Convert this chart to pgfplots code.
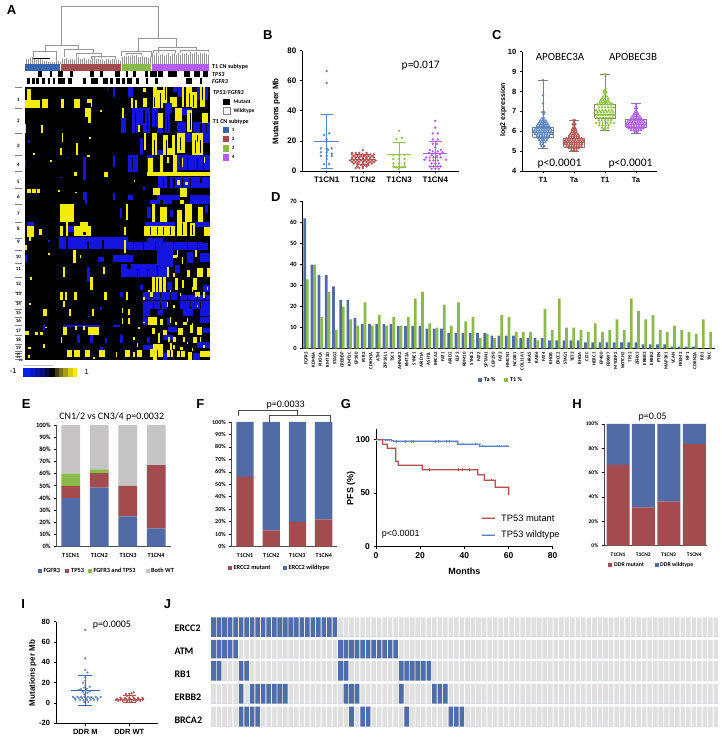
\documentclass[border=0pt]{standalone}
\usepackage{fontspec}
\usepackage{pgfplots}
\usepackage{pgfplotstable}
\pgfplotsset{compat=1.18}
\setmainfont{Liberation Sans}
\newfontfamily\calib{Carlito}
\newcommand\fs[1]{\fontsize{#1}{#1}\selectfont}
\definecolor{hy}{RGB}{245,235,10}
\definecolor{hb}{RGB}{20,20,225}
\definecolor{tb}{RGB}{80,107,165}
\definecolor{tr}{RGB}{163,75,79}
\definecolor{tg}{RGB}{138,186,74}
\definecolor{tq}{RGB}{198,196,196}
\definecolor{db}{RGB}{90,133,197}
\definecolor{dr}{RGB}{181,82,79}
\definecolor{dg}{RGB}{141,198,63}
\definecolor{dp}{RGB}{180,92,245}
\definecolor{jg}{RGB}{225,224,225}
\definecolor{jb}{RGB}{79,109,169}
\definecolor{db2}{RGB}{55,100,175}
\definecolor{dend}{RGB}{150,150,150}
\definecolor{cb1}{RGB}{5,30,235}
\definecolor{cb2}{RGB}{10,25,200}
\definecolor{cb3}{RGB}{10,20,165}
\definecolor{cb4}{RGB}{10,15,125}
\definecolor{cb5}{RGB}{5,10,80}
\definecolor{cb6}{RGB}{70,65,10}
\definecolor{cb7}{RGB}{120,115,15}
\definecolor{cb8}{RGB}{170,160,15}
\definecolor{cb9}{RGB}{215,205,10}
\newcommand\R[5]{\addplot[fill=#1,draw=none,forget plot] coordinates {(#2,#4)(#3,#4)(#3,#5)(#2,#5)} --cycle;}
\newcommand\Y[4]{\R{hy}{#1}{#2}{#3}{#4}}
\newcommand\Bl[4]{\R{hb}{#1}{#2}{#3}{#4}}
\newcommand\Kk[4]{\R{black}{#1}{#2}{#3}{#4}}
\newcommand\Lab[4]{\node[inner sep=0pt,font=#1] at (axis cs:#2,#3) {#4};}
\newcommand\Txt[4]{\node[inner sep=0pt,anchor=west,font=#1] at (axis cs:#2,#3) {#4};}
\newcommand\Hl[1]{\draw[gray,line width=.4pt] (axis cs:15,#1) -- (axis cs:21.7,#1);}
\newcommand\Swarm[3]{\addplot[only marks,mark=*,mark size=#2,color=#1,forget plot] coordinates {#3};}
\newcommand\MeanSD[7]{% color x meanhalf caphalf low mean high
\addplot[color=#1,line width=.8pt,forget plot] coordinates {(#2,#5)(#2,#7)};
\pgfmathsetmacro\xa{#2-#3}\pgfmathsetmacro\xb{#2+#3}\pgfmathsetmacro\xc{#2-#4}\pgfmathsetmacro\xd{#2+#4}
\edef\temp{\noexpand\addplot[color=#1,line width=.8pt,forget plot] coordinates {(\xa,#6)(\xb,#6)};
\noexpand\addplot[color=#1,line width=.8pt,forget plot] coordinates {(\xc,#5)(\xd,#5)};
\noexpand\addplot[color=#1,line width=.8pt,forget plot] coordinates {(\xc,#7)(\xd,#7)};}\temp}
\newcommand\BoxP[6]{% x low q1 med q3 high
\pgfmathsetmacro\xa{#1-.33}\pgfmathsetmacro\xb{#1+.33}\pgfmathsetmacro\xc{#1-.15}\pgfmathsetmacro\xd{#1+.15}
\addplot[color=gray,line width=.6pt,forget plot] coordinates {(#1,#2)(#1,#3)};
\addplot[color=gray,line width=.6pt,forget plot] coordinates {(#1,#5)(#1,#6)};
\edef\temp{\noexpand\addplot[color=gray,line width=.6pt,forget plot] coordinates {(\xa,#3)(\xb,#3)(\xb,#5)(\xa,#5)(\xa,#3)};
\noexpand\addplot[color=gray,line width=.6pt,forget plot] coordinates {(\xa,#4)(\xb,#4)};
\noexpand\addplot[color=gray,line width=.6pt,forget plot] coordinates {(\xc,#2)(\xd,#2)};
\noexpand\addplot[color=gray,line width=.6pt,forget plot] coordinates {(\xc,#6)(\xd,#6)};}\temp}
\pgfplotsset{
 panel/.style={scale only axis,axis x line*=bottom,axis y line*=left,
  axis line style={-,line width=.9pt},tick style={black,line width=.7pt},
  tick align=outside,major tick length=2.5pt,
  /pgf/number format/assume math mode=true,scaled ticks=false,clip=false},
 stk/.style={panel,ybar stacked,ymin=0,ymax=100,
  yticklabel={\pgfmathprintnumber{\tick}\%},
  x tick style={draw=none},xticklabels={},xtick=\empty,axis line style={-,line width=.8pt,color=black!70}},
 flat/.style={scale only axis,hide axis,clip=true},
 jrow/.style={scale only axis,hide axis,width=508pt,xmin=-.5,xmax=91.5,ymin=0,ymax=1,clip=true},
 jbar/.style={ybar,bar shift=0pt,bar width=4.6pt,draw=none,fill=#1}
}
\pgfplotstableread{
c all ERCC2 ATM RB1 ERBB2 BRCA2
0 1 1 1 1 0 0
1 1 1 1 1 0 0
2 1 1 1 0 0 0
3 1 1 1 0 0 0
4 1 1 1 0 0 0
5 1 1 0 1 1 1
6 1 1 0 1 0 1
7 1 1 0 0 1 1
8 1 1 0 0 1 1
9 1 1 0 0 1 0
10 1 1 0 0 1 0
11 1 1 0 0 1 0
12 1 1 0 0 1 0
13 1 1 0 0 1 0
14 1 1 0 0 0 0
15 1 1 0 0 0 0
16 1 1 0 0 0 0
17 1 1 0 0 0 0
18 1 1 0 0 0 0
19 1 1 0 0 0 0
20 1 1 0 0 0 0
21 1 1 0 0 0 0
22 1 1 0 0 0 0
23 1 0 1 1 0 0
24 1 0 1 1 1 0
25 1 0 1 0 1 1
26 1 0 1 0 1 0
27 1 0 1 0 0 1
28 1 0 1 0 0 1
29 1 0 1 0 0 0
30 1 0 1 0 0 0
31 1 0 1 0 0 0
32 1 0 1 0 0 0
33 1 0 1 0 0 0
34 1 0 0 1 1 0
35 1 0 0 1 0 1
36 1 0 0 1 0 0
37 1 0 0 1 0 0
38 1 0 0 1 0 0
39 1 0 0 1 0 0
40 1 0 0 0 1 0
41 1 0 0 0 1 0
42 1 0 0 0 1 0
43 1 0 0 0 0 1
44 1 0 0 0 0 1
45 1 0 0 0 0 1
46 1 0 0 0 0 0
47 1 0 0 0 0 0
48 1 0 0 0 0 0
49 1 0 0 0 0 0
50 1 0 0 0 0 0
51 1 0 0 0 0 0
52 1 0 0 0 0 0
53 1 0 0 0 0 0
54 1 0 0 0 0 0
55 1 0 0 0 0 0
56 1 0 0 0 0 0
57 1 0 0 0 0 0
58 1 0 0 0 0 0
59 1 0 0 0 0 0
60 1 0 0 0 0 0
61 1 0 0 0 0 0
62 1 0 0 0 0 0
63 1 0 0 0 0 0
64 1 0 0 0 0 0
65 1 0 0 0 0 0
66 1 0 0 0 0 0
67 1 0 0 0 0 0
68 1 0 0 0 0 0
69 1 0 0 0 0 0
70 1 0 0 0 0 0
71 1 0 0 0 0 0
72 1 0 0 0 0 0
73 1 0 0 0 0 0
74 1 0 0 0 0 0
75 1 0 0 0 0 0
76 1 0 0 0 0 0
77 1 0 0 0 0 0
78 1 0 0 0 0 0
79 1 0 0 0 0 0
80 1 0 0 0 0 0
81 1 0 0 0 0 0
82 1 0 0 0 0 0
83 1 0 0 0 0 0
84 1 0 0 0 0 0
85 1 0 0 0 0 0
86 1 0 0 0 0 0
87 1 0 0 0 0 0
88 1 0 0 0 0 0
89 1 0 0 0 0 0
90 1 0 0 0 0 0
91 1 0 0 0 0 0
}\jtab
\pgfplotstableread{
i Ta T1
0 62 33
1 40 40
2 35 15
3 35 27
4 29.7 9
5 23.3 20
6 23.3 14
7 14.5 11
8 11.7 22
9 11.7 11
10 11.7 16
11 11.7 11
12 11.7 15
13 10.8 11
14 10.8 15
15 10.8 24
16 10.8 27
17 9.5 12
18 9.5 10
19 9.5 21
20 7.5 11
21 7.5 22
22 7.5 13
23 7.5 15
24 7.5 5
25 7.5 7
26 6.2 5
27 6.2 16
28 6.2 15
29 6.2 8
30 5 8
31 5 8
32 5 4
33 5 19
34 4 9
35 4 24
36 4 10
37 4 10
38 4 9
39 3 8
40 3 12
41 3 8
42 3 9
43 3 14
44 3 9
45 3 24
46 3 18
47 2 14
48 2 16
49 2 9
50 2 8
51 1 11
52 1 9
53 1 8
54 1 7
55 0 14
56 0 8
}\dtab
\begin{document}
\begin{tikzpicture}[x=1pt,y=1pt]
\useasboundingbox (0,0) rectangle (721pt,738pt);

% ---------- A: dendrogram
\begin{axis}[at={(25pt,674pt)},anchor=south west,flat,width=185pt,height=58pt,xmin=75,xmax=630,ymin=0,ymax=174,clip=false]
\addplot[ycomb,color=dend,line width=.7pt,forget plot] coordinates {(78,16)(84,14)(90,18)(96,20)(102,14)(108,12)(114,15)(120,18)(126,11)(132,8)(138,10)(144,7)(150,5)(156,6)(162,5)(168,7)(174,8)(180,7)
(186,14)(192,16)(198,18)(204,12)(210,14)(216,16)(222,12)(228,18)(234,20)(240,14)(246,16)(252,18)(258,12)(264,14)(270,12)(276,18)(282,20)(288,16)(294,14)(300,12)(306,16)(312,10)(318,14)(324,16)(330,12)(336,14)(342,16)(348,12)(354,12)(360,10)
(366,22)(372,24)(378,20)(384,24)(390,22)(396,26)(402,24)(408,26)(414,22)(420,20)(426,24)(432,22)(438,20)(444,18)(450,20)
(458,32)(464,28)(470,32)(476,24)(482,26)(488,30)(494,24)(500,28)(506,32)(512,24)(518,30)(524,34)(530,28)(536,32)(542,26)(548,34)(554,30)(560,34)(566,28)(572,36)(578,30)(584,34)(590,36)(596,28)(602,32)(608,30)(614,34)(620,30)(626,28)};
\addplot[color=dend,line width=.7pt,forget plot] coordinates {(185,57)(185,172)(475,172)(475,77)};
\addplot[color=dend,line width=.7pt,forget plot] coordinates {(135,37)(135,57)(235,57)(235,44)};
\addplot[color=dend,line width=.7pt,forget plot] coordinates {(100,20)(100,37)(170,37)(170,7)};
\addplot[color=dend,line width=.7pt,forget plot] coordinates {(193,22)(193,44)(280,44)(280,32)};
\addplot[color=dend,line width=.7pt,forget plot] coordinates {(228,22)(228,32)(305,32)(305,18)};
\addplot[color=dend,line width=.7pt,forget plot] coordinates {(275,14)(275,22)(345,22)(345,16)};
\addplot[color=dend,line width=.7pt,forget plot] coordinates {(415,37)(415,77)(530,77)(530,50)};
\addplot[color=dend,line width=.7pt,forget plot] coordinates {(365,24)(365,37)(455,37)(455,20)};
\addplot[color=dend,line width=.7pt,forget plot] coordinates {(380,26)(380,32)(425,32)(425,26)};
\addplot[color=dend,line width=.7pt,forget plot] coordinates {(475,34)(475,50)(590,50)(590,40)};
\addplot[color=dend,line width=.7pt,forget plot] coordinates {(460,32)(460,40)(525,40)(525,34)};
\addplot[color=dend,line width=.7pt,forget plot] coordinates {(540,34)(540,42)(625,42)(625,36)};
\addplot[color=black,line width=.5pt,forget plot] coordinates {(100,16)(150,16)};
\end{axis}

% ---------- A: annotation rows
\begin{axis}[at={(25pt,654pt)},anchor=south west,flat,width=185pt,height=20pt,xmin=75,xmax=630,ymin=192,ymax=252,y dir=reverse]
\R{db2}{75}{180}{192}{212}\R{tr}{182}{362}{192}{212}\R{tg}{365}{452}{192}{212}\R{dp}{455}{628}{192}{212}
\Kk{115}{127}{213}{232}\Kk{150}{155}{213}{232}\Kk{175}{190}{213}{232}\Kk{210}{220}{213}{232}\Kk{270}{283}{213}{232}\Kk{300}{310}{213}{232}\Kk{345}{360}{213}{232}\Kk{378}{385}{213}{232}\Kk{400}{408}{213}{232}\Kk{435}{445}{213}{232}\Kk{450}{470}{213}{232}\Kk{475}{488}{213}{232}\Kk{505}{530}{213}{232}\Kk{553}{570}{213}{232}\Kk{583}{600}{213}{232}\Kk{610}{625}{213}{232}
\Kk{80}{90}{233}{251}\Kk{95}{105}{233}{251}\Kk{107}{118}{233}{251}\Kk{125}{135}{233}{251}\Kk{143}{150}{233}{251}\Kk{158}{165}{233}{251}\Kk{175}{195}{233}{251}\Kk{205}{215}{233}{251}\Kk{250}{258}{233}{251}\Kk{272}{295}{233}{251}\Kk{308}{325}{233}{251}\Kk{330}{340}{233}{251}\Kk{348}{360}{233}{251}\Kk{367}{375}{233}{251}\Kk{380}{395}{233}{251}\Kk{408}{418}{233}{251}\Kk{438}{445}{233}{251}\Kk{465}{473}{233}{251}\Kk{558}{575}{233}{251}\Kk{600}{607}{233}{251}
\end{axis}

% ---------- A: heat map, upper part
\begin{axis}[at={(25pt,538pt)},anchor=south west,flat,width=185pt,height=112.67pt,xmin=75,xmax=630,ymin=262,ymax=600,y dir=reverse]
\Kk{75}{630}{262}{600}
% row 1
\Y{75}{120}{300}{325}\Y{82}{92}{268}{300}\Y{125}{145}{298}{325}\Y{182}{192}{297}{325}\Y{222}{240}{297}{325}\Y{262}{272}{298}{308}\Y{272}{277}{298}{322}
\Bl{340}{346}{262}{290}\Bl{385}{400}{262}{290}\Y{392}{400}{295}{325}\Y{405}{410}{300}{325}\Y{428}{438}{265}{275}\Y{430}{440}{295}{320}
\Y{458}{470}{262}{330}\Y{472}{490}{270}{325}\Y{490}{500}{262}{310}\Y{510}{530}{292}{320}\Y{545}{575}{262}{320}\Y{575}{590}{275}{325}\Y{600}{615}{262}{320}
\Bl{495}{515}{310}{340}\Bl{520}{530}{262}{275}\Bl{590}{600}{262}{300}\Bl{615}{625}{262}{300}\Bl{535}{545}{262}{290}
% row 2
\Bl{362}{378}{355}{400}\Bl{395}{415}{325}{400}\Bl{415}{450}{325}{375}\Bl{428}{450}{375}{400}\Bl{455}{475}{325}{380}\Bl{495}{510}{340}{400}\Bl{580}{630}{365}{400}\Bl{530}{558}{365}{400}\Bl{470}{490}{385}{400}\Bl{545}{575}{325}{345}
\Y{255}{272}{325}{352}\Y{265}{272}{352}{368}\Y{365}{372}{325}{355}\Y{72}{78}{372}{398}\Y{122}{128}{375}{398}\Y{525}{545}{325}{362}\Y{560}{575}{330}{395}\Y{605}{625}{340}{370}\Y{475}{490}{340}{385}\Y{415}{420}{375}{395}
% row 3
\Y{455}{470}{400}{465}\Y{490}{525}{405}{465}\Y{530}{555}{400}{460}\Y{575}{610}{400}{465}\Y{432}{438}{400}{450}\Y{185}{190}{400}{425}\Y{228}{234}{430}{465}\Y{180}{186}{445}{465}
\Bl{420}{430}{415}{465}\Bl{470}{490}{450}{465}\Bl{610}{630}{400}{430}\Bl{555}{575}{400}{425}\Bl{85}{90}{420}{430}
\Kk{505}{515}{405}{445}\Kk{590}{595}{405}{425}
% row 4
\Bl{385}{415}{465}{515}\Bl{440}{460}{465}{515}\Bl{530}{630}{465}{510}\Bl{250}{258}{470}{515}\Bl{340}{346}{465}{500}
\Y{445}{458}{475}{515}\Y{480}{490}{465}{515}\Y{520}{530}{465}{515}\Y{262}{270}{465}{472}\Y{100}{105}{460}{466}
\Kk{395}{400}{470}{510}
% row 5
\Y{222}{232}{515}{528}\Y{312}{325}{515}{530}\Y{440}{630}{515}{528}\Bl{475}{500}{528}{565}\Bl{510}{590}{530}{565}\Bl{590}{630}{530}{565}\Bl{250}{258}{515}{540}\Y{530}{540}{540}{555}\Y{555}{565}{545}{555}
% row 6
\Y{80}{120}{568}{580}\Y{460}{480}{565}{585}\Y{540}{560}{565}{590}\Bl{250}{260}{575}{600}\Bl{470}{540}{585}{600}\Bl{570}{630}{585}{600}\Bl{385}{400}{585}{600}\Bl{340}{346}{580}{600}
\Kk{92}{96}{568}{580}\Kk{108}{112}{568}{580}
% specks
\Y{300}{305}{330}{336}\Y{150}{155}{480}{485}\Y{268}{272}{412}{416}\Y{175}{180}{570}{575}\Y{225}{232}{575}{580}\Y{402}{406}{540}{545}\Y{500}{504}{345}{355}\Y{545}{550}{475}{500}\Y{610}{614}{470}{490}\Y{500}{506}{470}{490}
\Bl{70}{78}{480}{500}\Bl{200}{205}{470}{475}\Bl{320}{325}{262}{270}\Bl{180}{186}{530}{535}\Bl{430}{435}{560}{570}
% black gaps
\Kk{463}{466}{290}{320}\Kk{480}{483}{280}{325}\Kk{495}{498}{262}{300}\Kk{553}{557}{262}{320}\Kk{566}{569}{280}{320}\Kk{580}{583}{285}{320}\Kk{607}{610}{262}{300}
\Kk{405}{408}{340}{400}\Kk{430}{434}{330}{370}\Kk{440}{443}{340}{395}\Kk{465}{468}{335}{380}\Kk{570}{573}{340}{390}\Kk{600}{605}{370}{395}\Kk{618}{621}{370}{398}\Kk{500}{503}{345}{395}
\Kk{462}{465}{420}{465}\Kk{497}{500}{420}{465}\Kk{540}{543}{410}{450}\Kk{585}{588}{420}{460}\Kk{600}{603}{420}{460}
\Kk{540}{543}{470}{505}\Kk{560}{563}{470}{510}\Kk{590}{593}{470}{510}\Kk{610}{613}{470}{510}
\Kk{520}{524}{533}{560}\Kk{545}{550}{533}{560}\Kk{570}{573}{533}{560}\Kk{490}{493}{530}{560}\Kk{600}{605}{535}{550}
\end{axis}

% ---------- A: heat map, lower part
\begin{axis}[at={(25pt,378pt)},anchor=south west,flat,width=185pt,height=160pt,xmin=75,xmax=630,ymin=30,ymax=510,y dir=reverse]
\Kk{75}{630}{30}{510}
% row 6 end
\Bl{450}{480}{30}{42}\Bl{255}{262}{30}{42}\Y{540}{552}{30}{42}\Bl{570}{630}{30}{42}\Bl{490}{515}{30}{42}
% row 7
\Y{180}{222}{42}{95}\Y{378}{384}{42}{90}\Y{455}{465}{42}{97}\Y{480}{500}{50}{97}\Y{530}{545}{60}{97}\Y{555}{575}{42}{97}\Y{595}{610}{50}{97}
\Bl{440}{452}{50}{85}\Bl{360}{366}{55}{85}\Bl{510}{520}{60}{80}\Bl{615}{625}{45}{70}
% row 8
\Y{82}{102}{108}{140}\Y{180}{190}{108}{137}\Y{198}{205}{97}{137}\Y{222}{272}{108}{137}\Y{240}{265}{97}{108}\Y{432}{525}{108}{137}\Y{530}{560}{97}{137}\Y{570}{585}{100}{137}\Y{612}{630}{110}{137}\Y{372}{378}{110}{135}\Y{118}{127}{118}{135}
\Bl{82}{102}{97}{108}\Bl{205}{222}{108}{125}\Bl{435}{525}{97}{108}\Bl{585}{630}{97}{110}\Kk{250}{258}{125}{135}
% row 9
\Bl{178}{385}{140}{178}\Bl{385}{610}{155}{180}\Bl{610}{625}{160}{180}\Bl{440}{490}{145}{155}\Kk{198}{205}{142}{178}\Kk{262}{268}{155}{178}\Kk{305}{312}{150}{178}\Y{372}{378}{150}{190}\Y{75}{80}{165}{180}\Y{88}{94}{140}{152}
% row 10
\Y{218}{228}{180}{218}\Bl{340}{400}{195}{215}\Bl{470}{520}{180}{230}\Bl{560}{580}{185}{220}\Bl{75}{82}{195}{215}\Bl{295}{312}{200}{215}\Bl{600}{630}{190}{215}\Y{520}{530}{195}{205}
% row 11
\Bl{362}{500}{222}{260}\Y{190}{196}{232}{260}\Y{310}{315}{232}{252}\Y{590}{610}{235}{260}\Y{620}{630}{235}{260}\Bl{260}{270}{230}{260}\Y{560}{570}{240}{260}\Y{500}{508}{230}{260}\Bl{525}{540}{225}{250}\Kk{380}{392}{222}{238}
% row 12
\Y{270}{280}{260}{300}\Y{455}{465}{260}{305}\Y{468}{485}{260}{305}\Y{490}{497}{262}{305}\Y{525}{535}{265}{300}\Y{580}{590}{265}{300}\Y{90}{95}{260}{270}\Bl{262}{270}{258}{275}\Bl{500}{515}{275}{300}\Bl{610}{630}{285}{305}\Y{545}{552}{270}{295}\Bl{420}{430}{285}{300}
% row 13
\Y{180}{200}{305}{330}\Y{222}{232}{305}{330}\Y{312}{320}{305}{330}\Y{378}{384}{305}{330}\Bl{430}{530}{305}{330}\Bl{540}{630}{315}{330}\Y{450}{458}{305}{320}\Y{585}{600}{305}{320}\Kk{190}{194}{305}{330}\Bl{360}{370}{305}{320}
% row 14
\Bl{430}{500}{332}{358}\Bl{540}{630}{332}{358}\Y{190}{196}{332}{352}\Y{500}{505}{335}{350}
% row 15
\Y{130}{140}{358}{378}\Y{208}{213}{358}{378}\Y{276}{282}{358}{378}\Bl{430}{450}{358}{378}\Bl{550}{580}{358}{378}\Bl{600}{630}{358}{378}\Y{365}{370}{355}{370}\Y{385}{390}{358}{375}\Bl{475}{490}{360}{375}
% row 16
\Y{445}{470}{380}{405}\Y{480}{490}{388}{405}\Y{365}{370}{385}{402}\Y{385}{390}{385}{402}\Bl{430}{445}{380}{405}\Bl{500}{510}{385}{405}\Bl{600}{630}{380}{400}\Y{550}{560}{395}{405}
% row 17
\Bl{190}{300}{405}{412}\Y{265}{298}{412}{435}\Y{72}{88}{422}{435}\Y{105}{115}{425}{435}\Y{120}{130}{425}{435}\Y{190}{202}{412}{435}\Y{590}{605}{412}{435}\Y{535}{550}{415}{435}\Y{455}{465}{415}{432}\Y{490}{500}{420}{440}\Bl{340}{360}{405}{412}\Bl{130}{134}{405}{420}\Bl{610}{630}{415}{430}\Bl{505}{530}{410}{425}\Y{570}{578}{405}{430}\Y{225}{232}{408}{420}\Y{248}{255}{408}{420}
% row 18
\Bl{230}{240}{435}{460}\Bl{270}{280}{435}{460}\Bl{360}{370}{435}{460}\Y{182}{186}{440}{460}\Y{520}{528}{440}{455}\Y{550}{556}{440}{455}\Y{580}{590}{440}{460}\Y{475}{480}{430}{460}\Bl{590}{630}{455}{475}\Bl{490}{520}{435}{450}\Bl{440}{450}{440}{460}\Bl{315}{320}{445}{460}
% row 19
\Y{460}{490}{462}{480}\Bl{430}{460}{465}{480}\Y{130}{136}{462}{475}\Y{85}{92}{470}{478}\Bl{300}{310}{470}{480}\Y{540}{550}{470}{480}\Y{510}{516}{460}{480}
% rows 20-23
\Y{200}{215}{480}{500}\Y{222}{240}{480}{500}\Y{255}{270}{480}{500}\Y{298}{315}{480}{500}\Y{375}{390}{480}{500}\Y{410}{425}{480}{500}\Y{450}{490}{478}{500}\Y{500}{520}{480}{500}\Y{530}{555}{482}{500}\Y{565}{575}{485}{510}\Y{600}{630}{482}{500}\Y{85}{90}{495}{505}\Y{280}{285}{500}{508}\Y{348}{352}{485}{500}\Y{400}{405}{485}{500}\Y{458}{470}{500}{510}\Bl{490}{500}{490}{510}\Bl{580}{600}{490}{510}
% specks
\Y{510}{514}{380}{400}\Y{530}{534}{180}{200}\Y{585}{590}{180}{200}\Y{545}{550}{200}{222}\Y{520}{524}{250}{262}\Y{575}{580}{290}{305}\Y{610}{614}{305}{325}\Y{430}{436}{320}{330}\Y{145}{150}{190}{194}\Y{240}{244}{195}{205}\Y{88}{92}{340}{345}\Y{135}{140}{410}{415}\Bl{130}{135}{410}{418}\Bl{145}{150}{150}{155}\Bl{300}{305}{350}{360}\Bl{265}{270}{378}{382}
\Y{520}{524}{345}{355}\Y{510}{514}{300}{310}\Y{525}{530}{395}{405}\Y{560}{565}{385}{395}\Y{575}{580}{400}{410}\Y{590}{595}{345}{350}\Y{620}{624}{290}{300}\Y{430}{434}{395}{400}\Y{415}{420}{410}{418}\Y{400}{404}{440}{450}\Y{410}{414}{460}{470}\Y{445}{449}{300}{305}\Y{540}{544}{310}{318}\Y{505}{510}{440}{455}\Y{560}{564}{455}{462}\Y{600}{604}{440}{455}\Y{610}{615}{465}{475}\Y{520}{525}{465}{478}\Y{575}{580}{475}{482}
% black gaps
\Kk{450}{453}{110}{135}\Kk{470}{473}{110}{135}\Kk{490}{493}{110}{135}\Kk{510}{513}{110}{135}\Kk{545}{548}{100}{135}\Kk{577}{580}{105}{135}
\Kk{400}{402}{157}{178}\Kk{430}{433}{157}{178}\Kk{465}{468}{157}{178}\Kk{520}{523}{157}{178}\Kk{560}{563}{157}{178}\Kk{590}{593}{157}{178}
\Kk{410}{412}{238}{258}\Kk{440}{442}{238}{258}\Kk{470}{472}{225}{258}\Kk{473}{476}{265}{305}
\Kk{450}{453}{320}{330}\Kk{480}{483}{305}{330}\Kk{510}{513}{305}{330}\Kk{560}{563}{318}{330}\Kk{590}{593}{318}{330}\Kk{615}{618}{318}{330}
\Kk{460}{463}{335}{358}\Kk{480}{483}{335}{358}\Kk{570}{573}{335}{358}\Kk{600}{603}{335}{358}
\Kk{470}{473}{480}{500}\Kk{510}{513}{480}{500}\Kk{540}{543}{482}{500}
\end{axis}

% ---------- B
\begin{axis}[panel,at={(302.3pt,567pt)},anchor=south west,width=157pt,height=120.3pt,xmin=.326,xmax=4.663,ymin=0,ymax=80,
 ytick={0,20,40,60,80},xtick={1,2,3,4},xticklabels={T1CN1,T1CN2,T1CN3,T1CN4},tick label style={font=\fs{8}\bfseries}]
\Swarm{db}{1pt}{(1,66.5)(1,58.5)(1.07,25)(.93,24)(1,21)(.84,15)(1,15)(1.14,15)(.84,12.5)(1,12.5)(.84,10)(1,10)(1.14,10)(1.14,11.5)(1,8)(.93,4.5)(1.07,4.5)(1.04,14)}
\Swarm{dr}{1pt}{(2,14)(1.7,12)(1.8,12)(1.9,12)(2.1,12)(1.7,11)(1.8,11)(1.9,11)(2,11)(2.1,11)(2.2,11)(2.3,11)(1.75,10)(1.85,10)(1.95,10)(2.05,10)(2.15,10)(2.25,10)(1.7,9)(1.8,9)(1.9,9)(2,9)(2.1,9)(2.2,9)(2.3,9)(1.7,8)(1.8,8)(1.9,8)(2,8)(2.1,8)(2.2,8)(1.65,7)(1.75,7)(1.85,7)(1.95,7)(2.05,7)(2.15,7)(2.25,7)(2.35,7)(1.7,6)(1.8,6)(1.9,6)(2,6)(2.1,6)(2.2,6)(2.3,6)(1.75,5)(1.85,5)(2,5)(2.15,5)(2.25,5)(1.85,4)(1.95,4)(2.05,4)(2.15,4)(1.85,3)(2,3)(2.1,3)(1.8,2)(1.9,2)(2,2)}
\Swarm{dg}{1pt}{(3,26.8)(2.93,21.2)(3.08,22)(2.85,10.7)(3,10.7)(3.15,10.7)(2.84,8)(3,8)(3.15,8)(2.84,5)(3,5)(3.15,5)(2.84,3)(3,3)(3.15,3)(3,1.5)(2.92,2.5)(3.08,2.5)}
\Swarm{dp}{1pt}{(4,33.3)(4,28.8)(3.93,25)(4.07,25)(3.93,21)(4.07,21)(3.93,18)(4.05,18)(4,15.5)(3.85,14)(4.15,14)(3.93,13)(4.07,13)(4.2,12.5)(3.83,12)(4,12)(4.13,11)(3.9,10.5)(4.05,10)(3.75,9)(3.85,9)(3.95,9)(4.05,9)(4.15,9)(4.3,7.5)(3.7,7.5)(3.85,7)(3.95,7)(4.07,7)(3.9,5)(4,5)(4.1,5)(3.85,3)(3.95,3)(4.05,3)(4.15,3)(3.9,1.5)(4,1.5)(4.1,1.5)}
\MeanSD{db}{1}{.34}{.17}{2}{19.5}{37.5}
\MeanSD{dr}{2}{.33}{.17}{4.4}{7.7}{10.8}
\MeanSD{dg}{3}{.33}{.18}{2.5}{11}{19.3}
\MeanSD{dp}{4}{.33}{.18}{3}{11.5}{20}
\end{axis}

% ---------- C
\begin{axis}[panel,at={(522.3pt,567pt)},anchor=south west,width=134.4pt,height=119.3pt,xmin=.332,xmax=4.668,ymin=4,ymax=10,
 ytick={4,5,6,7,8,9,10},xtick={1,2,3,4},xticklabels={T1,Ta,T1,Ta},tick label style={font=\fs{7.5}\bfseries}]
\BoxP{1}{5.15}{5.7}{5.95}{6.2}{8.57}
\BoxP{2}{5}{5.2}{5.42}{5.65}{6.55}
\BoxP{3}{6.05}{6.65}{6.85}{7.37}{8.87}
\BoxP{4}{5.9}{6.2}{6.35}{6.58}{7.38}
\Swarm{db}{1pt}{(1,8.57)(1,7.8)(1,7.4)(.98,6.95)(1.04,6.95)(1.02,6.85)(.97,6.65)(1.03,6.65)(.92,6.55)(1,6.55)(1.08,6.55)(.88,6.45)(.96,6.45)(1.04,6.45)(1.12,6.45)(.84,6.35)(.92,6.35)(1,6.35)(1.08,6.35)(1.16,6.35)(.8,6.25)(.88,6.25)(.96,6.25)(1.04,6.25)(1.12,6.25)(1.2,6.25)(.76,6.15)(.84,6.15)(.92,6.15)(1,6.15)(1.08,6.15)(1.16,6.15)(1.24,6.15)(.72,6.05)(.8,6.05)(.88,6.05)(.96,6.05)(1.04,6.05)(1.12,6.05)(1.2,6.05)(1.28,6.05)(.7,5.95)(.78,5.95)(.86,5.95)(.94,5.95)(1.02,5.95)(1.1,5.95)(1.18,5.95)(1.26,5.95)(.74,5.85)(.82,5.85)(.9,5.85)(.98,5.85)(1.06,5.85)(1.14,5.85)(1.22,5.85)(1.3,5.85)(.8,5.75)(.88,5.75)(.96,5.75)(1.04,5.75)(1.12,5.75)(1.2,5.75)(.84,5.65)(.92,5.65)(1,5.65)(1.08,5.65)(1.16,5.65)(.88,5.55)(.96,5.55)(1.04,5.55)(1.12,5.55)(.92,5.45)(1,5.45)(1.08,5.45)(.92,5.35)(1,5.35)(.95,5.25)(1.05,5.25)(1,5.15)}
\Swarm{dr}{1pt}{(1.97,6.55)(2.03,6.55)(2,6.45)(1.96,6.35)(2.04,6.35)(2,6.25)(1.96,6.15)(2.04,6.15)(1.93,6.05)(2,6.05)(2.07,6.05)(1.92,5.95)(2,5.95)(2.08,5.95)(1.88,5.85)(1.96,5.85)(2.04,5.85)(2.12,5.85)(1.84,5.75)(1.92,5.75)(2,5.75)(2.08,5.75)(2.16,5.75)(1.76,5.65)(1.84,5.65)(1.92,5.65)(2,5.65)(2.08,5.65)(2.16,5.65)(2.24,5.65)(1.72,5.55)(1.8,5.55)(1.88,5.55)(1.96,5.55)(2.04,5.55)(2.12,5.55)(2.2,5.55)(2.28,5.55)(1.68,5.45)(1.76,5.45)(1.84,5.45)(1.92,5.45)(2,5.45)(2.08,5.45)(2.16,5.45)(2.24,5.45)(2.32,5.45)(1.7,5.35)(1.78,5.35)(1.86,5.35)(1.94,5.35)(2.02,5.35)(2.1,5.35)(2.18,5.35)(2.26,5.35)(1.76,5.25)(1.84,5.25)(1.92,5.25)(2,5.25)(2.08,5.25)(2.16,5.25)(2.24,5.25)(1.84,5.15)(1.92,5.15)(2,5.15)(2.08,5.15)(2.16,5.15)(1.92,5.05)(2,5.05)(2.08,5.05)(2,5)}
\Swarm{dg}{1pt}{(3,8.87)(3.03,8.15)(2.98,8.05)(3.04,7.95)(2.96,7.95)(3,7.85)(2.94,7.75)(3.06,7.75)(2.9,7.65)(3,7.65)(3.1,7.65)(2.86,7.55)(2.94,7.55)(3.02,7.55)(3.1,7.55)(2.82,7.45)(2.9,7.45)(2.98,7.45)(3.06,7.45)(3.14,7.45)(3.2,7.4)(2.76,7.35)(2.84,7.35)(2.92,7.35)(3,7.35)(3.08,7.35)(3.16,7.35)(3.24,7.35)(2.8,7.2)(2.9,7.2)(3,7.2)(3.1,7.2)(3.2,7.2)(3.28,7.2)(2.72,7.05)(2.82,7.05)(2.92,7.05)(3.02,7.05)(3.12,7.05)(3.22,7.05)(2.76,6.95)(2.86,6.95)(2.96,6.95)(3.06,6.95)(3.16,6.95)(3.26,6.95)(2.7,6.82)(2.78,6.82)(2.86,6.82)(2.94,6.82)(3.02,6.82)(3.1,6.82)(3.18,6.82)(3.26,6.82)(3.32,6.82)(2.74,6.68)(2.84,6.68)(2.94,6.68)(3.04,6.68)(3.14,6.68)(3.24,6.68)(2.8,6.55)(2.9,6.55)(3,6.55)(3.1,6.55)(3.2,6.55)(2.72,6.42)(2.82,6.42)(2.92,6.42)(3.08,6.42)(3.18,6.42)(3.3,6.42)(2.82,6.3)(2.92,6.3)(3.02,6.3)(3.12,6.3)(2.9,6.18)(3,6.18)(3.1,6.18)(3,6.05)(2.96,6.1)}
\Swarm{dp}{1pt}{(4,7.38)(4,7.25)(3.97,7.15)(4.03,7.15)(4,7.05)(3.96,6.95)(4.04,6.95)(3.93,6.85)(4,6.85)(4.07,6.85)(3.88,6.75)(3.96,6.75)(4.04,6.75)(4.12,6.75)(3.84,6.65)(3.92,6.65)(4,6.65)(4.08,6.65)(4.16,6.65)(3.76,6.55)(3.84,6.55)(3.92,6.55)(4,6.55)(4.08,6.55)(4.16,6.55)(4.24,6.55)(3.72,6.45)(3.8,6.45)(3.88,6.45)(3.96,6.45)(4.04,6.45)(4.12,6.45)(4.2,6.45)(4.28,6.45)(3.68,6.35)(3.76,6.35)(3.84,6.35)(3.92,6.35)(4,6.35)(4.08,6.35)(4.16,6.35)(4.24,6.35)(4.32,6.35)(3.7,6.25)(3.78,6.25)(3.86,6.25)(3.94,6.25)(4.02,6.25)(4.1,6.25)(4.18,6.25)(4.26,6.25)(3.76,6.15)(3.84,6.15)(3.92,6.15)(4,6.15)(4.08,6.15)(4.16,6.15)(4.24,6.15)(3.84,6.05)(3.92,6.05)(4,6.05)(4.08,6.05)(4.16,6.05)(3.96,5.95)(4.04,5.95)}
\end{axis}

% ---------- D
\begin{axis}[panel,at={(302.7pt,389.3pt)},anchor=south west,width=412.3pt,height=147pt,xmin=-.46,xmax=56.8,ymin=0,ymax=70,
 ytick={0,10,...,70},xtick={0,...,56},
 xticklabels={FGFR3,KDM6A,PIK3CA,KMT2D,STAG2,CREBBP,KMT2C,EP300,RYR2,CDKN1A,ATM,ZFP36L1,TSC1,AHNAK2,KMT2A,SYNE1,ARID1A,ASH1L,BRCA2,FAT1,ARID2,ELF3,RBM10,SYNE2,FAT2,SPTAN1,CEP290,FAT3,HMCN1,NCOR1,COL11A1,HRAS,RAB6,FAT4,RHOB,ERCC2,STAG1,TET3,RHOA,CLTC,HERC1,EP400,FBXW7,MYCBP2,NOTCH2,TP53,ZFHX3,ERBB3,ERBB2,PTEN,MAP3K1,VCAN,FREM2,NF1,CDKN2A,RB1,TNC},
 x tick style={draw=none},
 y tick label style={font=\calib\fs{6.5}\bfseries},
 x tick label style={font=\calib\fs{4.8}\bfseries,rotate=90,anchor=east,inner sep=1pt}]
\addplot[ybar,bar shift=-1.35pt,bar width=2.7pt,fill=tb,draw=none,forget plot] table[x=i,y=Ta] {\dtab};
\addplot[ybar,bar shift=1.35pt,bar width=2.7pt,fill=tg,draw=none,forget plot] table[x=i,y=T1] {\dtab};
\end{axis}

% ---------- E
\begin{axis}[stk,at={(56.7pt,191.3pt)},anchor=south west,width=114pt,height=121.7pt,xmin=.51,xmax=4.51,bar width=18.7pt,
 ytick={0,10,...,100},tick label style={font=\calib\fs{6.5}\bfseries}]
\addplot[fill=tb,draw=none,forget plot] coordinates {(1,40)(2,48.5)(3,25)(4,15)};
\addplot[fill=tr,draw=none,forget plot] coordinates {(1,10)(2,12)(3,25)(4,52)};
\addplot[fill=tg,draw=none,forget plot] coordinates {(1,10)(2,3)(3,0)(4,0)};
\addplot[fill=tq,draw=none,forget plot] coordinates {(1,40)(2,36.5)(3,50)(4,33)};
\end{axis}

% ---------- F
\begin{axis}[stk,at={(231.7pt,191.3pt)},anchor=south west,width=105pt,height=124.7pt,xmin=.492,xmax=4.5,bar width=17.3pt,
 ytick={0,10,...,100},tick label style={font=\calib\fs{6}\bfseries}]
\addplot[fill=tr,draw=none,forget plot] coordinates {(1,56)(2,13)(3,20)(4,22)};
\addplot[fill=tb,draw=none,forget plot] coordinates {(1,44)(2,87)(3,80)(4,78)};
\end{axis}

% ---------- G
\begin{axis}[panel,at={(376pt,191.7pt)},anchor=south west,width=176.7pt,height=117pt,xmin=0,xmax=80,ymin=0,ymax=109.8,
 ytick={0,50,100},xtick={0,20,40,60,80},tick label style={font=\fs{8.5}\bfseries}]
\addplot[color=db!45,line width=2pt,forget plot] coordinates {(0,100)(7,100)(7,99)(8,99)(8,98.5)(37,98.5)(37,96)(47,96)(47,94)(60,94)};
\addplot[color=dr!40,line width=2pt,forget plot] coordinates {(0,100)(3,100)(3,96)(5,96)(5,92)(9,92)(9,80)(10,80)(10,76)(21,76)(21,72)(46,72)(46,67)(49,67)(49,62)(54,62)(54,55.5)(60,55.5)(60,48)};
\addplot[color=db,line width=.9pt,forget plot] coordinates {(0,100)(7,100)(7,99)(8,99)(8,98.5)(37,98.5)(37,96)(47,96)(47,94)(60,94)};
\addplot[color=dr,line width=.9pt,forget plot] coordinates {(0,100)(3,100)(3,96)(5,96)(5,92)(9,92)(9,80)(10,80)(10,76)(21,76)(21,72)(46,72)(46,67)(49,67)(49,62)(54,62)(54,55.5)(60,55.5)(60,48)};
\addplot[only marks,mark=|,mark size=1.2pt,color=db,forget plot] coordinates {(4,100)(5,100)(6,100)(9,98.5)(13,98.5)(16,98.5)(17,98.5)(27,98.5)(28,98.5)(32,98.5)(33,98.5)(39,96)(45,96)(48,94)(55,94)(56,94)(59,94)};
\addplot[only marks,mark=|,mark size=1.2pt,color=dr,forget plot] coordinates {(24,72)(37,72)(39,72)(42,72)(52,62)};
\end{axis}

% ---------- H
\begin{axis}[stk,at={(604.3pt,192.3pt)},anchor=south west,width=102.4pt,height=121.7pt,xmin=.46,xmax=4.49,bar width=23pt,
 ytick={0,20,...,100},tick label style={font=\calib\fs{5.5}\bfseries}]
\addplot[fill=tr,draw=none,forget plot] coordinates {(1,66.5)(2,31.5)(3,36.5)(4,83.5)};
\addplot[fill=tb,draw=none,forget plot] coordinates {(1,33.5)(2,68.5)(3,63.5)(4,16.5)};
\end{axis}

% ---------- I
\begin{axis}[panel,at={(56pt,14.7pt)},anchor=south west,width=102.3pt,height=101.6pt,xmin=.334,xmax=2.66,ymin=-20,ymax=80,
 ytick={-20,0,20,40,60,80},xtick={1,2},xticklabels={DDR M,DDR WT},tick label style={font=\fs{7.5}\bfseries}]
\Swarm{db}{.9pt}{(1,72)(1,44)(1,32.5)(1.05,30)(1,25)(1,22)(.95,20)(1,17.5)(1.1,16)(.97,15)(.9,13.5)(1.03,14)(.85,13)(1,12)(1.1,11.5)(.95,11)(1.05,10)(.98,8.5)(.72,6)(.82,6)(.9,6)(.98,6)(1.06,6)(1.14,6)(1.24,6)(1.35,6)(.76,4.5)(.85,5)(.93,5)(1.02,4.5)(1.1,5)(1.18,4.5)(1.28,4.5)(.78,3)(.88,3)(.96,3)(1.04,3)(1.12,3)(1.2,3)(1.28,3)(.97,1)(1.07,1)}
\Swarm{dr}{.9pt}{(2.1,10.5)(1.92,9)(2,9)(2.05,9.5)(2,7.5)(1.95,7)(2.08,7)(1.8,5)(1.9,5)(2,5)(2.1,5)(2.2,5)(2.3,5)(1.72,4)(1.82,4)(1.92,4)(2.02,4)(2.12,4)(2.22,4)(2.32,4)(1.7,3)(1.8,3)(1.9,3)(2,3)(2.1,3)(2.2,3)(2.3,3)(1.75,2)(1.85,2)(1.95,2)(2.05,2)(2.15,2)(2.25,2)(1.95,1)(2.05,1)}
\MeanSD{db2}{1}{.33}{.16}{-2}{12.5}{27}
\MeanSD{dr}{2}{.33}{.15}{1}{4}{7.5}
\end{axis}

% ---------- J
\begin{axis}[jrow,at={(210.7pt,101pt)},anchor=south west,height=19.7pt]
\addplot[jbar=jg,forget plot] table[x=c,y=all] {\jtab};
\addplot[jbar=jb,forget plot] table[x=c,y=ERCC2] {\jtab};
\end{axis}
\begin{axis}[jrow,at={(210.7pt,79.7pt)},anchor=south west,height=18.3pt]
\addplot[jbar=jg,forget plot] table[x=c,y=all] {\jtab};
\addplot[jbar=jb,forget plot] table[x=c,y=ATM] {\jtab};
\end{axis}
\begin{axis}[jrow,at={(210.7pt,57.3pt)},anchor=south west,height=19.7pt]
\addplot[jbar=jg,forget plot] table[x=c,y=all] {\jtab};
\addplot[jbar=jb,forget plot] table[x=c,y=RB1] {\jtab};
\end{axis}
\begin{axis}[jrow,at={(210.7pt,34.3pt)},anchor=south west,height=19.7pt]
\addplot[jbar=jg,forget plot] table[x=c,y=all] {\jtab};
\addplot[jbar=jb,forget plot] table[x=c,y=ERBB2] {\jtab};
\end{axis}
\begin{axis}[jrow,at={(210.7pt,11.3pt)},anchor=south west,height=20pt]
\addplot[jbar=jg,forget plot] table[x=c,y=all] {\jtab};
\addplot[jbar=jb,forget plot] table[x=c,y=BRCA2] {\jtab};
\end{axis}

% ---------- overlay in image pixels
\begin{axis}[at={(0pt,0pt)},anchor=south west,scale only axis,hide axis,width=721pt,height=738pt,xmin=0,xmax=721,ymin=0,ymax=738,y dir=reverse,clip=false]
% colour bar
\R{cb1}{22.7}{30}{367.7}{376.7}\R{cb2}{30}{35}{367.7}{376.7}\R{cb3}{35}{40}{367.7}{376.7}\R{cb4}{40}{45}{367.7}{376.7}\R{cb5}{45}{49}{367.7}{376.7}\R{black}{49}{55}{367.7}{376.7}
\R{cb6}{55}{59}{367.7}{376.7}\R{cb7}{59}{63}{367.7}{376.7}\R{cb8}{63}{68}{367.7}{376.7}\R{cb9}{68}{73}{367.7}{376.7}\R{hy}{73}{77.3}{367.7}{376.7}
\draw[gray!50,line width=.4pt] (axis cs:23.5,365.5) -- (axis cs:53,365.5);
\Lab{\fs{7.5}}{13.3}{371.3}{-1}
\Lab{\fs{7.5}}{86.7}{372}{1}
% row ticks
\Hl{87.3}\Hl{108.3}\Hl{133.3}\Hl{155}\Hl{171.7}\Hl{188.3}\Hl{204}\Hl{222.3}\Hl{237.7}\Hl{250}\Hl{262.7}\Hl{276.7}\Hl{291.7}\Hl{300.7}\Hl{309.3}\Hl{316.7}\Hl{325}\Hl{335}\Hl{344}\Hl{350.7}\Hl{353.3}\Hl{356}\Hl{359}
\Lab{\calib\fs{5}\bfseries}{18.3}{100}{1}\Lab{\calib\fs{5}\bfseries}{18.3}{120.7}{2}\Lab{\calib\fs{5}\bfseries}{18.3}{145.7}{3}\Lab{\calib\fs{5}\bfseries}{18.3}{165}{4}\Lab{\calib\fs{5}\bfseries}{18.3}{181.7}{5}\Lab{\calib\fs{5}\bfseries}{18.3}{196.7}{6}\Lab{\calib\fs{5}\bfseries}{18.3}{213.7}{7}\Lab{\calib\fs{5}\bfseries}{18.3}{228.7}{8}\Lab{\calib\fs{5}\bfseries}{18.3}{242.3}{9}\Lab{\calib\fs{5}\bfseries}{18.3}{256.7}{10}\Lab{\calib\fs{5}\bfseries}{18.3}{269}{11}\Lab{\calib\fs{5}\bfseries}{18.3}{283.7}{12}\Lab{\calib\fs{5}\bfseries}{18.3}{294}{13}\Lab{\calib\fs{5}\bfseries}{18.3}{304.3}{14}\Lab{\calib\fs{5}\bfseries}{18.3}{312.7}{15}\Lab{\calib\fs{5}\bfseries}{18.3}{321.3}{16}\Lab{\calib\fs{5}\bfseries}{18.3}{331}{17}\Lab{\calib\fs{5}\bfseries}{18.3}{340}{18}\Lab{\calib\fs{5}\bfseries}{18.3}{348}{19}\Lab{\calib\fs{3.5}\bfseries}{18.3}{354}{20}\Lab{\calib\fs{3.5}\bfseries}{18.3}{357}{21}\Lab{\calib\fs{3.5}\bfseries}{21}{360}{22}
% A legend
\Txt{\calib\fs{6}\bfseries}{212}{67.3}{T1 CN subtype}
\Txt{\calib\fs{6}\bfseries\itshape}{212}{74.7}{TP53}
\Txt{\calib\fs{6}\bfseries\itshape}{212}{82}{FGFR3}
\Txt{\calib\fs{6}\bfseries\itshape}{213}{92.3}{TP53/FGFR3}
\R{black}{222.7}{230}{98.7}{105.3}
\draw[gray,line width=.4pt] (axis cs:222.7,107.3) rectangle (axis cs:230,114);
\Txt{\calib\fs{5.5}\bfseries}{233.3}{102}{Mutant}
\Txt{\calib\fs{5.5}\bfseries}{233.3}{110.7}{Wildtype}
\Txt{\calib\fs{6}\bfseries}{212.7}{121.7}{T1 CN subtype}
\R{db2}{222.7}{229.3}{126.7}{133.3}\R{tr}{222.7}{229.3}{135.7}{142.3}\R{tg}{222.7}{229.3}{145}{151.7}\R{dp}{222.7}{229.3}{154}{160.7}
\Txt{\calib\fs{5}\bfseries}{231.7}{130}{1}\Txt{\calib\fs{5}\bfseries}{231.7}{139}{2}\Txt{\calib\fs{5}\bfseries}{231.7}{148.3}{3}\Txt{\calib\fs{5}\bfseries}{231.7}{157.3}{4}
% panel letters
\Lab{\fs{13}\bfseries}{11.5}{10.5}{A}\Lab{\fs{13}\bfseries}{267.8}{34.7}{B}\Lab{\fs{13}\bfseries}{496.7}{34.7}{C}\Lab{\fs{13}\bfseries}{275.8}{197}{D}\Lab{\fs{13}\bfseries}{26.3}{404.5}{E}\Lab{\fs{13}\bfseries}{200.3}{404.5}{F}\Lab{\fs{13}\bfseries}{346}{404.5}{G}\Lab{\fs{13}\bfseries}{577}{404.5}{H}\Lab{\fs{13}\bfseries}{23.3}{604}{I}\Lab{\fs{13}\bfseries}{167.5}{604}{J}
% B, C text
\Lab{\fs{8}\bfseries}{276.3}{111.3}{\rotatebox{90}{Mutations per Mb}}
\Lab{\calib\fs{11.5}}{420.7}{66}{p=0.017}
\Lab{\fs{7}\bfseries}{503.3}{110}{\rotatebox{90}{log2 expression}}
\Lab{\calib\fs{11}}{560}{56.7}{APOBEC3A}\Lab{\calib\fs{11}}{633}{56.7}{APOBEC3B}
\Lab{\calib\fs{11.5}}{559.5}{164}{p<0.0001}\Lab{\calib\fs{11.5}}{630.5}{164}{p<0.0001}
% D legend
\R{tb}{478.3}{482.3}{377.7}{381.7}\Txt{\calib\fs{6}\bfseries}{484}{379.7}{Ta \%}
\R{tg}{504.3}{508.3}{377.7}{381.7}\Txt{\calib\fs{6}\bfseries}{510}{379.7}{T1 \%}
% E
\Lab{\calib\fs{10}}{111.7}{416.7}{CN1/2 vs CN3/4 p=0.0032}
\Lab{\calib\fs{6.3}\bfseries}{70.7}{555.7}{T1CN1}\Lab{\calib\fs{6.3}\bfseries}{99.3}{555.7}{T1CN2}\Lab{\calib\fs{6.3}\bfseries}{128}{555.7}{T1CN3}\Lab{\calib\fs{6.3}\bfseries}{156}{555.7}{T1CN4}
\R{tb}{37.7}{41.7}{568.7}{572.7}\Txt{\calib\fs{6.3}\bfseries}{43.3}{570.7}{FGFR3}
\R{tr}{65}{69}{568.7}{572.7}\Txt{\calib\fs{6.3}\bfseries}{71}{570.7}{TP53}
\R{tg}{87.7}{91.7}{568.7}{572.7}\Txt{\calib\fs{6.3}\bfseries}{93.3}{570.7}{FGFR3 and TP53}
\R{tq}{146}{150}{568.7}{572.7}\Txt{\calib\fs{6.3}\bfseries}{151}{570.7}{Both WT}
% F
\draw[black!70,line width=.6pt] (axis cs:238.3,415.7) -- (axis cs:238.3,410) -- (axis cs:297.3,410) -- (axis cs:297.3,415.7);
\draw[black!70,line width=.6pt] (axis cs:269.3,421.7) -- (axis cs:269.3,415.7) -- (axis cs:330,415.7) -- (axis cs:330,421.7);
\Lab{\calib\fs{10}}{285.7}{404.7}{p=0.0033}
\Lab{\calib\fs{6}\bfseries}{245}{555.7}{T1CN1}\Lab{\calib\fs{6}\bfseries}{271.3}{555.7}{T1CN2}\Lab{\calib\fs{6}\bfseries}{297.3}{555.7}{T1CN3}\Lab{\calib\fs{6}\bfseries}{323.7}{555.7}{T1CN4}
\R{tr}{227.7}{231.7}{565.7}{569.7}\Txt{\calib\fs{6.3}\bfseries}{233.3}{567.7}{ERCC2 mutant}
\R{tb}{283.3}{287}{565.7}{569.7}\Txt{\calib\fs{6.3}\bfseries}{288.3}{567.7}{ERCC2 wildtype}
% G
\Lab{\fs{9}\bfseries}{351}{488.3}{\rotatebox{90}{PFS (\%)}}
\Lab{\fs{9}\bfseries}{464.3}{571}{Months}
\Txt{\fs{9}}{381.7}{534.3}{p<0.0001}
\draw[dr!40,line width=2pt] (axis cs:481.7,518.3) -- (axis cs:495,518.3);
\draw[db!45,line width=2pt] (axis cs:481.7,535) -- (axis cs:495,535);
\draw[dr,line width=.9pt] (axis cs:481.7,518.3) -- (axis cs:495,518.3);
\draw[db,line width=.9pt] (axis cs:481.7,535) -- (axis cs:495,535);
\Txt{\fs{9.3}}{501}{518.3}{TP53 mutant}
\Txt{\fs{9.3}}{501}{535}{TP53 wildtype}
% H
\Lab{\calib\fs{10}}{652.7}{416.7}{p=0.05}
\Lab{\calib\fs{5.5}\bfseries}{618}{554.3}{T1CN1}\Lab{\calib\fs{5.5}\bfseries}{643.3}{554.3}{T1CN2}\Lab{\calib\fs{5.5}\bfseries}{668.5}{554.3}{T1CN3}\Lab{\calib\fs{5.5}\bfseries}{694.2}{554.3}{T1CN4}
\R{tr}{608.3}{612.3}{563}{567}\Txt{\calib\fs{5.8}\bfseries}{614}{565}{DDR mutant}
\R{tb}{655}{659}{563}{567}\Txt{\calib\fs{5.8}\bfseries}{660}{565}{DDR wildtype}
% I
\Lab{\fs{8}\bfseries}{32.7}{673}{\rotatebox{90}{Mutations per Mb}}
\Lab{\calib\fs{10}}{112}{625}{p=0.0005}
% J
\Txt{\calib\fs{10}\bfseries}{174.3}{628.3}{ERCC2}\Txt{\calib\fs{10}\bfseries}{174.3}{651.3}{ATM}\Txt{\calib\fs{10}\bfseries}{174.3}{674.3}{RB1}\Txt{\calib\fs{10}\bfseries}{174.3}{697.3}{ERBB2}\Txt{\calib\fs{10}\bfseries}{174.3}{720.3}{BRCA2}
\end{axis}
\end{tikzpicture}
\end{document}
